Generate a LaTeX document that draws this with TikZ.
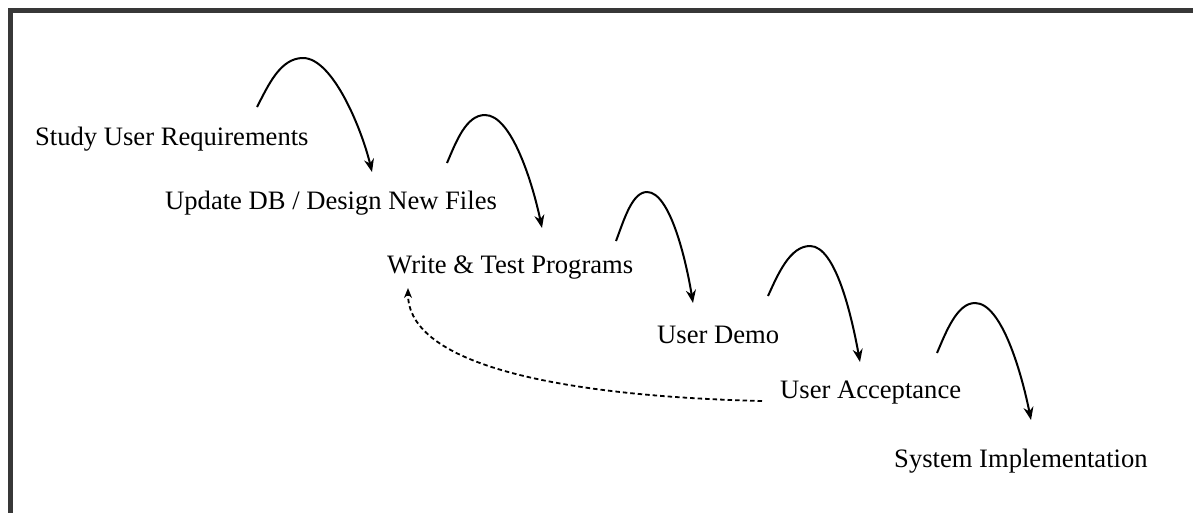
\documentclass[tikz,border=0pt]{standalone}
\usepackage{fontspec}
\setmainfont{Liberation Serif}
\usetikzlibrary{arrows.meta}
\begin{document}
\begin{tikzpicture}[x=1pt,y=-1pt,
  lbl/.style={anchor=base west,inner sep=0pt,font=\fontsize{26.6}{30}\selectfont},
  hop/.style={line width=2pt,-{Stealth[length=13pt,width=10pt]}},
  back/.style={line width=1.8pt,dash pattern=on 4.5pt off 3pt,-{Stealth[length=10pt,width=8pt]}},
  frame/.style={line width=5pt,draw=black!78}]
\useasboundingbox (0,0) rectangle (1193,512);
\draw[frame] (10.5,515) -- (10.5,10) -- (1196,10);

\node[lbl] (t1) at (35,145) {Study User Requirements};
\node[lbl] (t2) at (165,209) {Update DB / Design New Files};
\node[lbl] (t3) at (387,273) {Write \& Test Programs};
\node[lbl] (t4) at (657,343) {User Demo};
\node[lbl] (t5) at (780,398) {User Acceptance};
\node[lbl] (t6) at (894,467) {System Implementation};

\coordinate (s1) at (257,107); \coordinate (e1) at (372,172);
\coordinate (s2) at (447,163); \coordinate (e2) at (542,228);
\coordinate (s3) at (616,241); \coordinate (e3) at (693,303);
\coordinate (s4) at (768,296); \coordinate (e4) at (860,362);
\coordinate (s5) at (937,353); \coordinate (e5) at (1031,420);

\draw[hop] (s1) .. controls (268,86) and (280,58) .. (303,58) .. controls (333,58) and (362,130) .. (e1);
\draw[hop] (s2) .. controls (456,142) and (466,115) .. (485,115) .. controls (512,115) and (533,185) .. (e2);
\draw[hop] (s3) .. controls (624,220) and (632,192) .. (647,192) .. controls (670,192) and (686,260) .. (e3);
\draw[hop] (s4) .. controls (778,274) and (790,246) .. (810,246) .. controls (836,246) and (852,318) .. (e4);
\draw[hop] (s5) .. controls (946,332) and (957,303) .. (975,303) .. controls (1002,303) and (1022,375) .. (e5);

\coordinate (d0) at (762,401);
\coordinate (d1) at (408,288);
\draw[back] (d0) .. controls (560,396) and (408,365) .. (d1);
\end{tikzpicture}
\end{document}
